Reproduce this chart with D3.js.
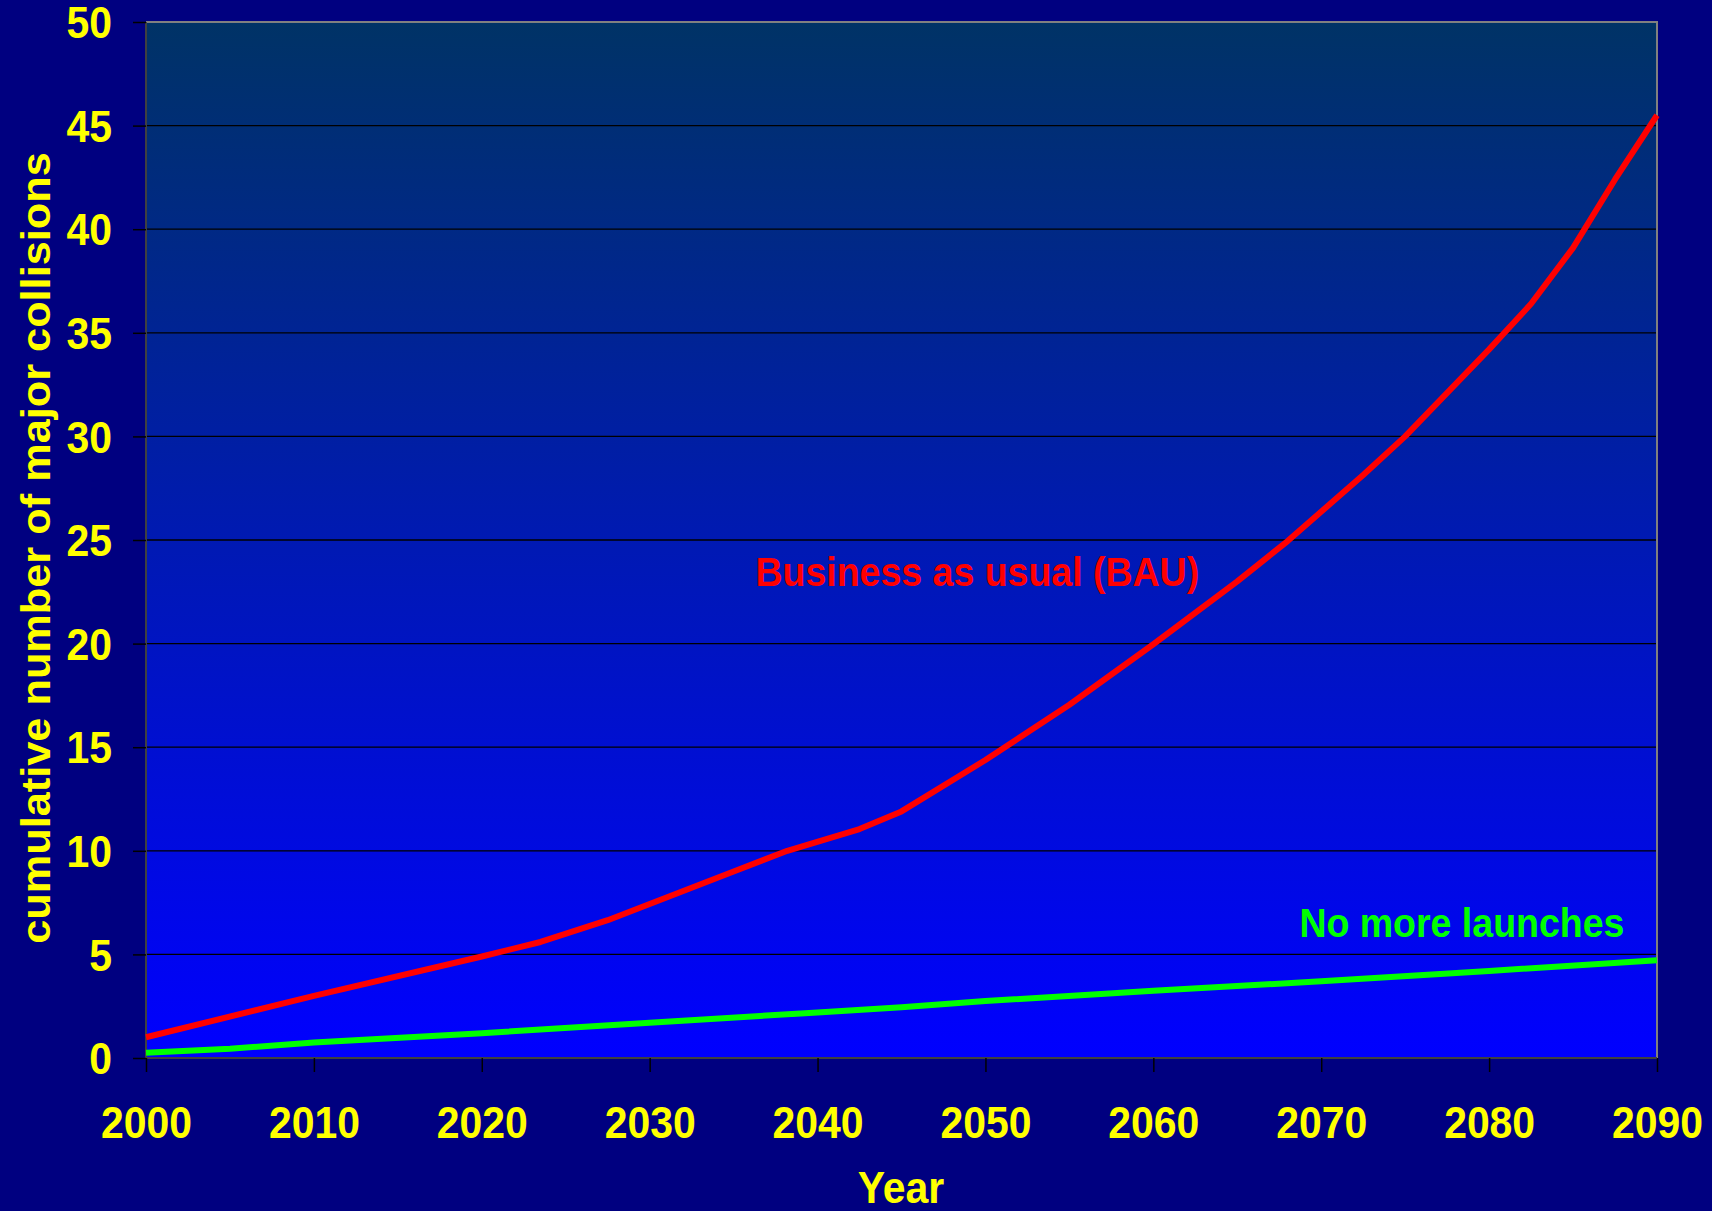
<!DOCTYPE html>
<html>
<head>
<meta charset="utf-8">
<script src="https://cdn.jsdelivr.net/npm/d3@7/dist/d3.min.js"></script>
<style>
  html, body { margin: 0; padding: 0; background: #000080; overflow: hidden; }
  text { font-family: "Liberation Sans", Arial, sans-serif; font-weight: bold; }
</style>
</head>
<body>
<div id="chartDiv"></div>
<script>
// data
var bauYears  = [2000, 2010, 2020, 2023.5, 2027.5, 2035, 2038.2, 2042.5, 2045, 2050, 2055, 2060, 2065, 2068, 2072.5, 2075, 2080, 2082.5, 2085, 2087.5, 2090];
var bauValues = [1.0, 3.0, 4.9, 5.6, 6.65, 9.0, 10.0, 11.05, 11.9, 14.38, 17.05, 19.97, 23.0, 24.95, 28.14, 30.0, 34.2, 36.4, 39.1, 42.4, 45.5];

var nmlYears  = [2000, 2005, 2010, 2020, 2030, 2040, 2045, 2050, 2060, 2070, 2080, 2090];
var nmlValues = [0.25, 0.45, 0.75, 1.2, 1.7, 2.2, 2.45, 2.75, 3.25, 3.7, 4.2, 4.72];

var xTicks = [2000, 2010, 2020, 2030, 2040, 2050, 2060, 2070, 2080, 2090];
var yTicks = [0, 5, 10, 15, 20, 25, 30, 35, 40, 45, 50];

var seriesNames = ["Business as usual (BAU)", "No more launches"];
var seriesColors = ["#ff0000", "#00ff00"];

var W = 1712, H = 1211;
var margin = {top: 22, right: 55, bottom: 153, left: 146};
var width = W - margin.left - margin.right,
    height = H - margin.top - margin.bottom;

// the original text is a bit narrow, squeeze it horizontally
var squeeze = 0.94;

var svg = d3.select("#chartDiv").append("svg")
    .attr("width", W)
    .attr("height", H);

svg.append("rect").attr("width", W).attr("height", H).attr("fill", "#000080");

var defs = svg.append("defs");
var grad = defs.append("linearGradient")
    .attr("id", "plotGrad")
    .attr("x1", 0).attr("y1", 0).attr("x2", 0).attr("y2", 1);
grad.append("stop").attr("offset", "0%").attr("stop-color", "#003366");
grad.append("stop").attr("offset", "100%").attr("stop-color", "#0000ff");

var x_scale = d3.scaleLinear().domain([2000, 2090]).range([0, width]);
var y_scale = d3.scaleLinear().domain([0, 50]).range([height, 0]);

var chart_svg = svg.append("g")
    .attr("transform", "translate(" + margin.left + "," + margin.top + ")");

chart_svg.append("rect")
    .attr("width", width)
    .attr("height", height)
    .attr("fill", "url(#plotGrad)");

// gridlines
chart_svg.append("g").selectAll(".grid").data(yTicks.slice(1, -1)).enter()
    .append("line").attr("class", "grid")
    .attr("x1", 0).attr("x2", width)
    .attr("y1", function(d){ return y_scale(d); })
    .attr("y2", function(d){ return y_scale(d); })
    .attr("stroke", "#000000")
    .attr("stroke-width", 1.3);

// frame: top/right light gray, left/bottom dark gray
chart_svg.append("path")
    .attr("d", "M0,0H" + width + "V" + height)
    .attr("fill", "none").attr("stroke", "#808080").attr("stroke-width", 2);
chart_svg.append("path")
    .attr("d", "M0,0V" + height + "H" + width)
    .attr("fill", "none").attr("stroke", "#404040").attr("stroke-width", 2);

// axes
var yAxis = d3.axisLeft(y_scale).tickValues(yTicks).tickSize(13).tickPadding(21);
var xAxis = d3.axisBottom(x_scale).tickValues(xTicks).tickFormat(d3.format("d")).tickSize(14).tickPadding(35);

var gy = chart_svg.append("g").call(yAxis);
var gx = chart_svg.append("g").attr("transform", "translate(0," + height + ")").call(xAxis);

[gx, gy].forEach(function(g){
  g.select(".domain").remove();
  g.selectAll(".tick line").attr("stroke", "#000000").attr("stroke-width", 1.5);
  g.selectAll(".tick text")
    .attr("fill", "#ffff00")
    .attr("transform", "scale(" + squeeze + ",1)")
    .style("font-size", "43.5px")
    .style("font-family", '"Liberation Sans", Arial, sans-serif')
    .style("font-weight", "bold");
});
gy.selectAll(".tick text").attr("dy", "0.36em").attr("x", -34 / squeeze);

// lines
var line = d3.line()
    .x(function(d){ return x_scale(d[0]); })
    .y(function(d){ return y_scale(d[1]); });

var series = [
  d3.zip(bauYears, bauValues),
  d3.zip(nmlYears, nmlValues)
];

chart_svg.append("g").selectAll(".series").data(series).enter()
    .append("path").attr("class", "series")
    .attr("d", line)
    .attr("fill", "none")
    .attr("stroke", function(d, i){ return seriesColors[i]; })
    .attr("stroke-width", 6)
    .attr("stroke-linejoin", "round");

// series labels
chart_svg.append("text")
    .text(seriesNames[0])
    .attr("transform", "translate(" + x_scale(2036.3) + "," + y_scale(22.8) + ") scale(0.926,1)")
    .attr("fill", seriesColors[0])
    .style("font-size", "40.5px");

chart_svg.append("text")
    .text(seriesNames[1])
    .attr("transform", "translate(" + x_scale(2068.7) + "," + y_scale(5.85) + ") scale(0.926,1)")
    .attr("fill", seriesColors[1])
    .style("font-size", "40.5px");

// axis titles
svg.append("text")
    .text("Year")
    .attr("transform", "translate(901,1203) scale(" + squeeze + ",1)")
    .attr("text-anchor", "middle")
    .attr("fill", "#ffff00")
    .style("font-size", "43.5px");

svg.append("text")
    .text("cumulative number of major collisions")
    .attr("transform", "translate(50,548) rotate(-90) scale(1," + squeeze + ")")
    .attr("text-anchor", "middle")
    .attr("fill", "#ffff00")
    .style("font-size", "43.3px");
</script>
</body>
</html>
